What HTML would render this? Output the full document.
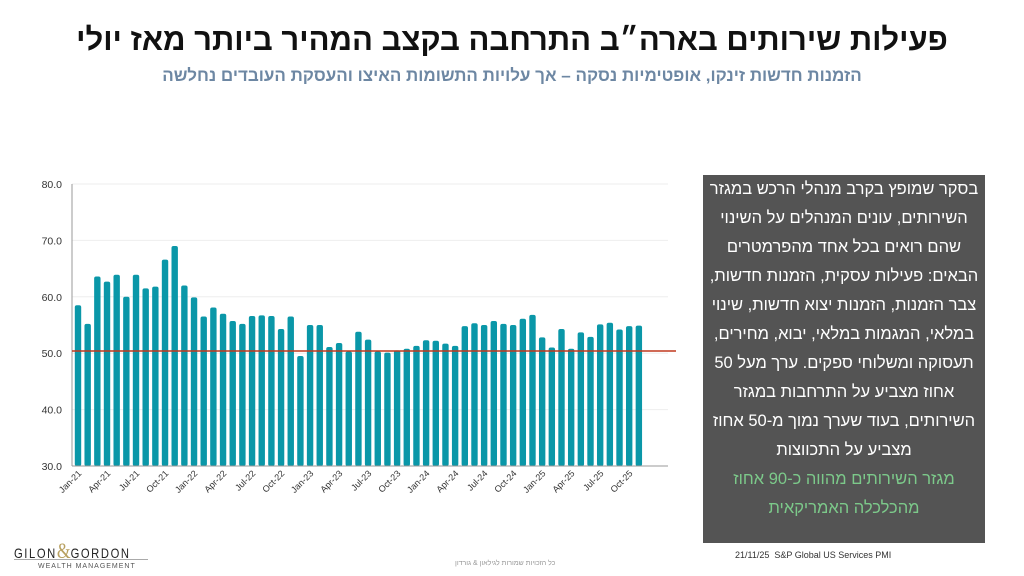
<!DOCTYPE html>
<html><head><meta charset="utf-8"><style>
body{margin:0;width:1024px;height:576px;background:#fff;position:relative;overflow:hidden;font-family:"Liberation Sans","Noto Sans CJK SC",sans-serif}
.t{position:absolute;left:0;width:1024px;text-align:center;direction:rtl;font-weight:bold}
#box{position:absolute;left:703px;top:175px;width:282px;height:368px;background:#545454;color:#fff;direction:rtl;text-align:center;font-size:16.5px;line-height:29px;padding-top:0px;box-sizing:border-box}
</style></head><body>
<div class="t" style="top:22px;font-size:31px;color:#111">פעילות שירותים בארה״ב התרחבה בקצב המהיר ביותר מאז יולי</div>
<div class="t" style="top:66px;font-size:17px;color:#6d87a3">הזמנות חדשות זינקו, אופטימיות נסקה – אך עלויות התשומות האיצו והעסקת העובדים נחלשה</div>
<svg id="c" width="1024" height="576" style="position:absolute;left:0;top:0"></svg>
<div id="box">בסקר שמופץ בקרב מנהלי הרכש במגזר<br>השירותים, עונים המנהלים על השינוי<br>שהם רואים בכל אחד מהפרמטרים<br>הבאים: פעילות עסקית, הזמנות חדשות,<br>צבר הזמנות, הזמנות יצוא חדשות, שינוי<br>במלאי, המגמות במלאי, יבוא, מחירים,<br>תעסוקה ומשלוחי ספקים. ערך מעל 50<br>אחוז מצביע על התרחבות במגזר<br>השירותים, בעוד שערך נמוך מ-50 אחוז<br>מצביע על התכווצות<br><span style="color:#7cc98a">מגזר השירותים מהווה כ-90 אחוז<br>מהכלכלה האמריקאית</span></div>
<div style="position:absolute;left:735px;top:550px;font-size:9px;color:#333">21/11/25&nbsp; S&amp;P Global US Services PMI</div>
<div style="position:absolute;left:455px;top:560px;font-size:7px;color:#999;direction:rtl">כל הזכויות שמורות לגילאון &amp; גורדון</div>
<div style="position:absolute;left:14px;top:538px;font-size:14px;letter-spacing:2px;color:#222;transform:scaleX(0.8);transform-origin:left">GILON<span style="color:#b8a060;font-size:22px;font-family:'Liberation Serif',serif;letter-spacing:0">&amp;</span>GORDON</div>
<div style="position:absolute;left:14px;top:559px;width:134px;border-top:1px solid #aaa"></div>
<div style="position:absolute;left:38px;top:563px;font-size:7px;letter-spacing:1px;color:#555">WEALTH MANAGEMENT</div>
<script>
var v=[58.5,55.2,63.6,62.7,63.9,60.0,63.9,61.5,61.8,66.6,69.0,62.0,59.9,56.5,58.1,57.0,55.7,55.2,56.6,56.7,56.6,54.3,56.5,49.5,55.0,55.0,51.1,51.8,50.3,53.8,52.4,50.3,50.1,50.5,50.8,51.3,52.3,52.2,51.7,51.3,54.8,55.3,55.0,55.7,55.2,55.0,56.1,56.8,52.8,51.0,54.3,50.8,53.7,52.9,55.1,55.4,54.2,54.8,54.9];
var m=["Jan","Apr","Jul","Oct"],s="";
function y(d){return 466-(d-30)*5.64}
for(var k=40;k<=80;k+=10)s+='<line x1="72" x2="668" y1="'+y(k)+'" y2="'+y(k)+'" stroke="#eee"/><text x="62" y="'+(y(k)+4)+'" font-size="10.5" text-anchor="end" fill="#333" font-family="Liberation Sans">'+k+'.0</text>';
s+='<text x="62" y="470" font-size="10.5" text-anchor="end" fill="#333" font-family="Liberation Sans">30.0</text>';
s+='<line x1="72" x2="72" y1="184" y2="466" stroke="#999"/>';
for(var i=0;i<v.length;i++){var x=78+i*9.67;s+='<rect x="'+(x-3.2)+'" y="'+y(v[i])+'" width="6.4" height="'+(466-y(v[i]))+'" rx="2" fill="#0a97a8"/>';
if(i%3==0){var lb=m[(i/3)%4]+"-"+(21+Math.floor(i/12));s+='<text transform="translate('+(x+4)+',474) rotate(-45)" font-size="9" text-anchor="end" fill="#333" font-family="Liberation Sans">'+lb+'</text>';}}
s+='<line x1="72" x2="668" y1="466" y2="466" stroke="#999"/>';
s+='<line x1="72" x2="676" y1="351" y2="351" stroke="#c0391e" stroke-width="1.5"/>';
document.getElementById("c").innerHTML=s;
</script>
</body></html>
